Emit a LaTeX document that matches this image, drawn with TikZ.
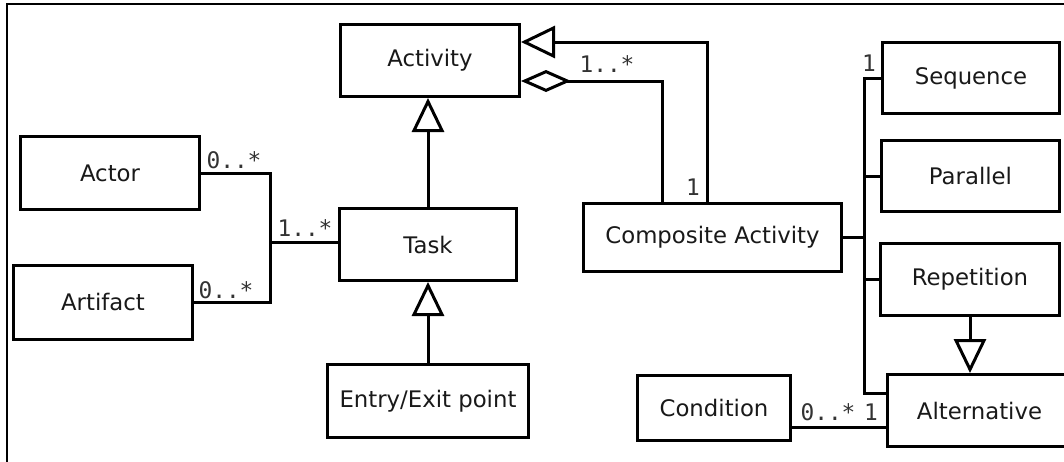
\documentclass[tikz,border=0pt]{standalone}
\usepackage{fontspec}
\setmainfont{DejaVu Sans}
\setmonofont{DejaVu Sans Mono}
\usetikzlibrary{arrows.meta}

\tikzset{
  cls/.style={draw, line width=3pt, inner sep=0pt, minimum height=72pt, text=black!90},
  mult/.style={inner sep=0pt, font=\fontsize{22.8}{27}\selectfont\ttfamily, text=black!80},
  gen/.style={-{Triangle[open, length=34pt, width=32pt]}},
  agg/.style={-{Diamond[open, length=50pt, width=22pt]}},
}

\begin{document}
\begin{tikzpicture}[x=1pt, y=-1pt, line width=3pt, font=\fontsize{22.8}{27}\selectfont]
\useasboundingbox (0,0) rectangle (1064,461);
\clip (0,0) rectangle (1064,461);
\draw[line width=1.5pt] (7,470) -- (7,4) -- (1070,4);
%
\node[cls, minimum width=179pt] (Activity) at (430,60.5) {Activity};
\node[cls, minimum width=179pt, minimum height=73pt] (Actor) at (110,173) {Actor};
\node[cls, minimum width=179pt, minimum height=74pt] (Artifact) at (103,302) {Artifact};
\node[cls, minimum width=177pt] (Task) at (428,244.5) {Task};
\node[cls, minimum width=201pt, minimum height=73pt] (Entry) at (428,401) {Entry/Exit point};
%
\node[cls, minimum width=258pt, minimum height=68pt] (Composite) at (712.5,237.5) {Composite Activity};
\node[cls, minimum width=177pt, minimum height=71pt] (Sequence) at (971,78) {Sequence};
\node[cls, minimum width=178pt, minimum height=71pt] (Parallel) at (970.5,176) {Parallel};
\node[cls, minimum width=179pt] (Repetition) at (970,279.5) {Repetition};
\node[cls, minimum width=184pt] (Alternative) at (979.5,410.5) {Alternative};
\node[cls, minimum width=153pt, minimum height=65pt] (Condition) at (714,408) {Condition};
%
\coordinate (joint) at (270,242);
\coordinate (bus) at (864,237.5);
%
\draw[gen] (Task.north) -- (Task.north |- Activity.south);
\draw[gen] (Entry.north) -- (Entry.north |- Task.south);
\draw (Actor.east) -| (joint) -- (Task.west |- joint);
\draw (Artifact.east) -| (joint);
\draw[gen] ([xshift=-5.5pt]Composite.north) |- ([yshift=18.5pt]Activity.east);
\draw[agg] ([xshift=-50.5pt]Composite.north) |- ([yshift=-20.5pt]Activity.east);
%
\draw (Composite) -- (bus);
\draw (Sequence.west) -| (bus) |- ([yshift=17.5pt]Alternative.west);
\draw (Parallel.west) -- (Parallel.west -| bus);
\draw (Repetition.west) -- (Repetition.west -| bus);
\draw[gen] (Repetition.south) -- (Repetition.south |- Alternative.north);
\draw ([yshift=-19pt]Condition.east) -- ([yshift=-19pt]Condition.east -| Alternative.west);
%
\node[mult] (mActor) at (234,160) {0..*};
\node[mult] (mArtifact) at (226,290) {0..*};
\node[mult] (mTask) at (305,228) {1..*};
\node[mult] (mPart) at (607,64) {1..*};
\node[mult] (mWhole) at (693,187) {1};
\node[mult] (mSeq) at (869,63) {1};
\node[mult] (mCond) at (828,412) {0..*};
\node[mult] (mAlt) at (871,412) {1};
\end{tikzpicture}
\end{document}
